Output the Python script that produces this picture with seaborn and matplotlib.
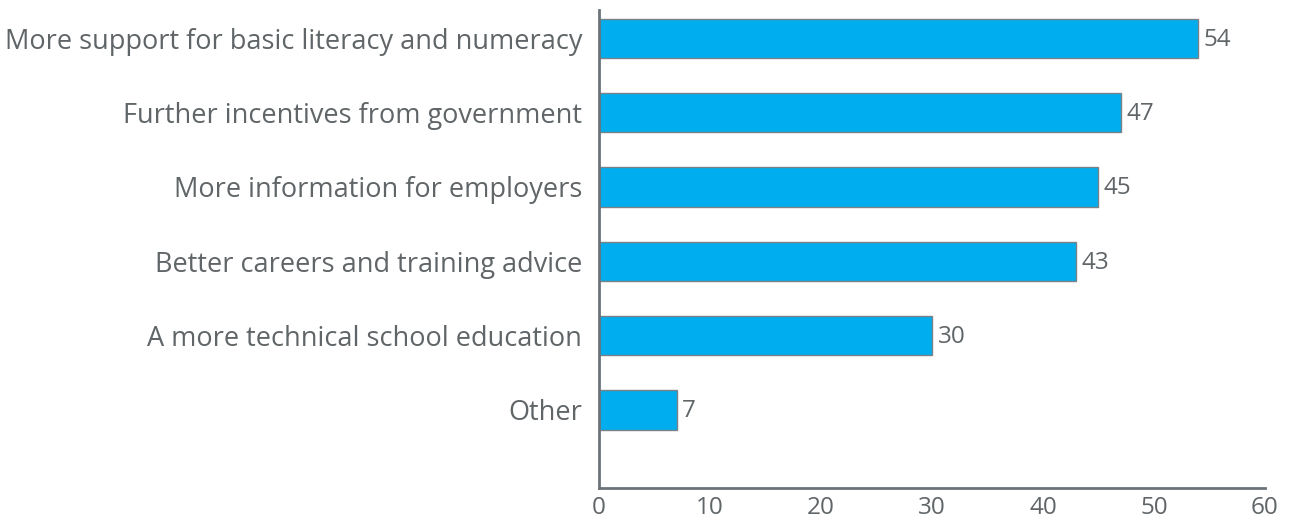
import matplotlib
matplotlib.use("Agg")
import matplotlib.pyplot as plt
import seaborn as sns
import pandas as pd

categories = [
    "More support for basic literacy and numeracy",
    "Further incentives from government",
    "More information for employers",
    "Better careers and training advice",
    "A more technical school education",
    "Other",
]
values = [54, 47, 45, 43, 30, 7]
x_ticks = [0, 10, 20, 30, 40, 50, 60]

sns.set_style("white")
plt.rcParams["font.family"] = ["Open Sans", "DejaVu Sans"]

text_color = "#606568"
axis_color = "#6b747a"
bar_color = "#00AEEF"

df = pd.DataFrame({"category": categories, "value": values})

fig = plt.figure(figsize=(12.92, 5.23), dpi=100)
ax = fig.add_axes([0.4636, 0.0669, 0.979 - 0.4636, 0.9809 - 0.0669])

sns.barplot(data=df, x="value", y="category", orient="h", color=bar_color,
            saturation=1, width=0.53, edgecolor="#7a8288", linewidth=1, ax=ax)

for patch, v in zip(ax.patches, values):
    y = patch.get_y() + patch.get_height() / 2
    ax.annotate(f"{v}", xy=(v, y), xytext=(4, -1), textcoords="offset points",
                ha="left", va="center", fontsize=17.5, color=text_color)

ax.set_xlim(0, 60)
ax.set_ylim(len(categories) - 1 + 1.05, -0.38)
ax.set_xticks(x_ticks)
ax.set_xlabel("")
ax.set_ylabel("")

for side in ("top", "right"):
    ax.spines[side].set_visible(False)
for side in ("left", "bottom"):
    ax.spines[side].set_color(axis_color)
    ax.spines[side].set_linewidth(2)

ax.tick_params(axis="x", direction="in", length=12, width=2, color=axis_color,
               labelsize=17.5, labelcolor=text_color, pad=6)
ax.tick_params(axis="y", length=0, labelsize=19.5, labelcolor=text_color, pad=12)

fig.savefig("out.png", dpi=100)
